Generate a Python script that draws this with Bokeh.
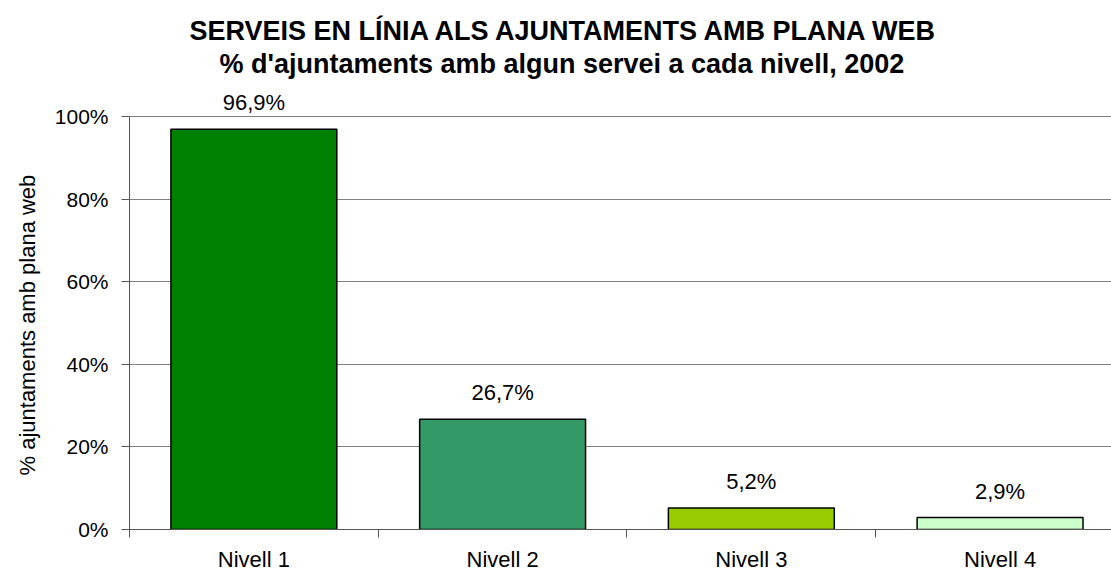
from bokeh.plotting import figure
from bokeh.models import Range1d, FixedTicker, ColumnDataSource, LabelSet, Title
from bokeh.core.properties import value
from bokeh.embed import file_html
from bokeh.resources import INLINE

categories = ["Nivell 1", "Nivell 2", "Nivell 3", "Nivell 4"]
values = [0.969, 0.267, 0.052, 0.029]
value_labels = ["96,9%", "26,7%", "5,2%", "2,9%"]
colors = ["#008000", "#339966", "#99CC00", "#CCFFCC"]
y_ticks = [0, 0.2, 0.4, 0.6, 0.8, 1.0]
y_tick_labels = ["0%", "20%", "40%", "60%", "80%", "100%"]
y_label = "% ajuntaments amb plana web"

FONT = "Liberation Sans"

xs = [i + 0.5 for i in range(len(categories))]
src = ColumnDataSource(dict(x=xs, top=values, color=colors, label=value_labels))

p = figure(width=1111, height=574, output_backend="svg", toolbar_location=None,
           x_range=Range1d(0, 3.948), y_range=Range1d(0, 1.0896),
           min_border_left=128, min_border_right=0, min_border_bottom=0, min_border_top=79)
p.outline_line_color = None
p.background_fill_color = "white"
p.border_fill_color = "white"

p.add_layout(Title(text="% d'ajuntaments amb algun servei a cada nivell, 2002", align="left",
                   text_font=FONT, text_font_size="27px", text_font_style="bold", text_color="black",
                   standoff=1, offset=90), "above")
p.add_layout(Title(text="SERVEIS EN LÍNIA ALS AJUNTAMENTS AMB PLANA WEB", align="left",
                   text_font=FONT, text_font_size="27px", text_font_style="bold", text_color="black",
                   standoff=1, offset=60), "above")

# y-axis title, placed so that it is centred on the 0-100% span
p.add_layout(Title(text=y_label, align="left", text_font=FONT, text_font_size="22px",
                   text_font_style="normal", text_color="black", standoff=24, offset=54), "left")

p.vbar(x="x", top="top", width=0.667, bottom=0, source=src, fill_color="color",
       line_color="black", line_width=1.5)

p.add_layout(LabelSet(x="x", y="top", text="label", source=src, text_align="center",
                      text_baseline="alphabetic", y_offset=19, text_font=value(FONT),
                      text_font_size=value("22px"), text_color="black"))

# x axis
p.xaxis.ticker = FixedTicker(ticks=xs, minor_ticks=[0, 1, 2, 3])
p.xaxis.major_label_overrides = {x: c for x, c in zip(xs, categories)}
p.xaxis.major_tick_out = 0
p.xaxis.major_tick_in = 0
p.xaxis.minor_tick_out = 8
p.xaxis.minor_tick_in = 0
p.xaxis.minor_tick_line_color = "#555555"
p.xaxis.axis_line_color = "#555555"
p.xaxis.major_label_standoff = 9
p.xaxis.major_label_text_font = FONT
p.xaxis.major_label_text_font_size = "22px"
p.xaxis.major_label_text_color = "black"

# y axis
p.yaxis.ticker = FixedTicker(ticks=y_ticks, minor_ticks=[])
p.yaxis.major_label_overrides = {t: l for t, l in zip(y_ticks, y_tick_labels)}
p.yaxis.bounds = (0, 1)
p.yaxis.major_tick_out = 8
p.yaxis.major_tick_in = 0
p.yaxis.major_tick_line_color = "#555555"
p.yaxis.axis_line_color = "#555555"
p.yaxis.major_label_standoff = 13
p.yaxis.major_label_text_font = FONT
p.yaxis.major_label_text_font_size = "21px"
p.yaxis.major_label_text_color = "black"

p.xgrid.grid_line_color = None
p.ygrid.ticker = FixedTicker(ticks=y_ticks)
p.ygrid.grid_line_color = "#808080"
p.ygrid.grid_line_width = 1

open("out.html", "w").write(file_html(p, INLINE))
